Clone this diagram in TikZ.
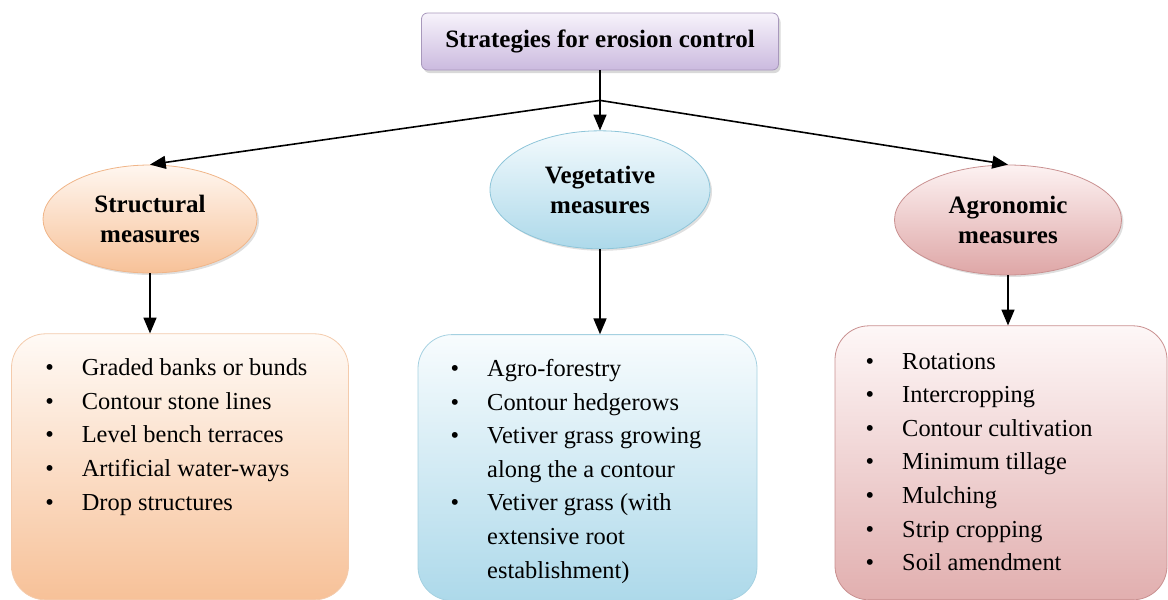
\documentclass[tikz,border=0pt]{standalone}
\usepackage{fontspec}
\setmainfont{Liberation Serif}
\usepackage{tikz}
\usetikzlibrary{shapes.geometric, arrows, calc, positioning, shadows}
\definecolor{titletop}{HTML}{F7F3FB}
\definecolor{titlebot}{HTML}{CBBADF}
\definecolor{titleline}{HTML}{A898BC}
\definecolor{structtop}{HTML}{FFF7F0}
\definecolor{structbot}{HTML}{F7C198}
\definecolor{structline}{HTML}{F0B588}
\definecolor{vegtop}{HTML}{F3FAFD}
\definecolor{vegbot}{HTML}{ADD9EA}
\definecolor{vegline}{HTML}{8EC5D9}
\definecolor{agrotop}{HTML}{FDF2F2}
\definecolor{agrobot}{HTML}{DEA6A6}
\definecolor{agroline}{HTML}{C99090}
\tikzstyle{title} = [rectangle, rounded corners=3pt, minimum width=178.5pt, minimum height=28.5pt, draw=titleline, top color=titletop, bottom color=titlebot, font=\fontsize{12.5}{15}\selectfont\bfseries, drop shadow={shadow xshift=1pt, shadow yshift=-1.5pt, opacity=0.3}]
\tikzstyle{measure} = [ellipse, inner sep=0pt, align=center, font=\fontsize{12.5}{15}\selectfont\bfseries, drop shadow={shadow xshift=1pt, shadow yshift=-1pt, opacity=0.25}]
\tikzstyle{listbox} = [rectangle, rounded corners=17pt, inner sep=0pt]
\tikzstyle{list} = [inner sep=0pt, font=\fontsize{12.2}{16.8}\selectfont]
\tikzstyle{arrow} = [thick,->,>=triangle 45]
\newcommand{\bul}{\textbullet}

\begin{document}
\begin{tikzpicture}[node distance = 30pt, auto]
		\useasboundingbox (0,0) rectangle (584pt,-300pt);
		\node (Strategies) [title] at (300pt,-20.75pt) {Strategies for erosion control};
		\node (Vegetative) [measure, minimum width=110pt, minimum height=59pt, draw=vegline, top color=vegtop, bottom color=vegbot, below = of Strategies] {Vegetative\\measures};
		\node (Structural) [measure, minimum width=107pt, minimum height=54pt, draw=structline, top color=structtop, bottom color=structbot] at (75pt,-109.5pt) {Structural\\measures};
		\node (Agronomic) [measure, minimum width=113.5pt, minimum height=55pt, draw=agroline, top color=agrotop, bottom color=agrobot] at (504pt,-110pt) {Agronomic\\measures};
		
		\node (StructuralBox) [listbox, minimum width=168.5pt, minimum height=133pt, draw=structline!70, top color=structtop!60, bottom color=structbot, below = of Structural, xshift=15pt] {};
		\node (VegetativeBox) [listbox, minimum width=169.5pt, minimum height=133pt, draw=vegline!80, top color=vegtop!60, bottom color=vegbot, below = 42.5pt of Vegetative, xshift=-6.25pt] {};
		\node (AgronomicBox) [listbox, minimum width=166pt, minimum height=137pt, draw=agroline, top color=agrotop!60, bottom color=agrobot!90, below = 25pt of Agronomic, xshift=-3.5pt] {};
		
		\node (StructuralList) [list, below right = 9.2pt and 16.9pt of StructuralBox.north west] {\begin{tabular}{@{}c@{\hspace{14pt}}l@{}}
			\bul & Graded banks or bunds\\
			\bul & Contour stone lines\\
			\bul & Level bench terraces\\
			\bul & Artificial water-ways\\
			\bul & Drop structures
		\end{tabular}};
		\node (VegetativeList) [list, below right = 9.2pt and 16.35pt of VegetativeBox.north west] {\begin{tabular}{@{}c@{\hspace{14pt}}l@{}}
			\bul & Agro-forestry\\
			\bul & Contour hedgerows\\
			\bul & Vetiver grass growing\\
			     & along the a contour\\
			\bul & Vetiver grass (with\\
			     & extensive root\\
			     & establishment)
		\end{tabular}};
		\node (AgronomicList) [list, below right = 9.9pt and 15.35pt of AgronomicBox.north west] {\begin{tabular}{@{}c@{\hspace{14pt}}l@{}}
			\bul & Rotations\\
			\bul & Intercropping\\
			\bul & Contour cultivation\\
			\bul & Minimum tillage\\
			\bul & Mulching\\
			\bul & Strip cropping\\
			\bul & Soil amendment
		\end{tabular}};
		
		\coordinate (Branch) at ($(Strategies.south)+(0,-15pt)$);
		\draw [arrow] (Strategies) -- (Vegetative);
		\draw [arrow] (Branch) -- (Structural.north);
		\draw [arrow] (Branch) -- (Agronomic.north);
		\draw [arrow] (Structural.south) -- (Structural.south |- StructuralBox.north);
		\draw [arrow] (Vegetative.south) -- (Vegetative.south |- VegetativeBox.north);
		\draw [arrow] (Agronomic.south) -- (Agronomic.south |- AgronomicBox.north);
		\end{tikzpicture}
\end{document}
